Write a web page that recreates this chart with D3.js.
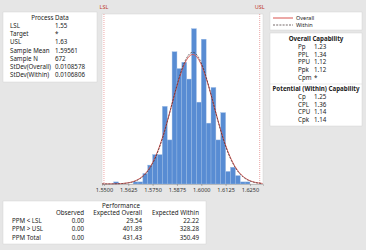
<!DOCTYPE html>
<html>
<head>
<meta charset="utf-8">
<script src="https://cdn.jsdelivr.net/npm/d3@7"></script>
<style>
  body { margin: 0; background: #e6e6e6; }
  svg { display: block; font-family: "Noto Sans", "DejaVu Sans", sans-serif; }
  .t { font-size: 6.2px; fill: #222; }
  .b { font-weight: bold; }
</style>
</head>
<body>
<svg id="chart" width="366" height="250"></svg>
<script>
// histogram bins (lower edge) and counts
const binLow = [1.555, 1.5575, 1.56, 1.5625, 1.565, 1.5675, 1.57, 1.5725, 1.575, 1.5775,
  1.58, 1.5825, 1.585, 1.5875, 1.59, 1.5925, 1.595, 1.5975, 1.6, 1.6025,
  1.605, 1.6075, 1.61, 1.6125, 1.615, 1.6175, 1.62, 1.6225];
const counts = [1, 0, 0, 0, 1, 1, 5, 9, 14, 14,
  37, 21, 63, 55, 58, 50, 74, 39, 69, 29,
  46, 21, 34, 6, 8, 4, 1, 1];
const binWidth = 0.0025;
const xTicks = [1.55, 1.5625, 1.575, 1.5875, 1.6, 1.6125, 1.625];

const LSL = 1.55, USL = 1.63;
const sampleMean = 1.59561, sampleN = 672;
const sdOverall = 0.0108578, sdWithin = 0.0106806;

const procLabels = ['LSL', 'Target', 'USL', 'Sample Mean', 'Sample N', 'StDev(Overall)', 'StDev(Within)'];
const procValues = ['1.55', '*', '1.63', '1.59561', '672', '0.0108578', '0.0106806'];

const overallLabels = ['Pp', 'PPL', 'PPU', 'Ppk', 'Cpm'];
const overallValues = ['1.23', '1.34', '1.12', '1.12', '*'];
const withinLabels = ['Cp', 'CPL', 'CPU', 'Cpk'];
const withinValues = ['1.25', '1.36', '1.14', '1.14'];

const perfRows = ['PPM < LSL', 'PPM > USL', 'PPM Total'];
const perfObserved = ['0.00', '0.00', '0.00'];
const perfOverall = ['29.54', '401.89', '431.43'];
const perfWithin = ['22.22', '328.28', '350.49'];

const svg = d3.select('#chart');

// plot region
const plot = { left: 102, right: 263, top: 14, bottom: 184 };
const x = d3.scaleLinear().domain([1.5490, 1.6317]).range([plot.left, plot.right]);
const y = d3.scaleLinear().domain([0, 81]).range([plot.bottom, plot.top]);

svg.append('rect')
  .attr('x', plot.left).attr('y', plot.top)
  .attr('width', plot.right - plot.left).attr('height', plot.bottom - plot.top)
  .attr('fill', '#fff').attr('stroke', '#d4d4d4').attr('stroke-width', 0.5);

svg.append('g').selectAll('rect')
  .data(binLow.map((b, i) => ({ b, c: counts[i] })).filter(d => d.c > 0))
  .join('rect')
  .attr('x', d => x(d.b))
  .attr('width', d => x(d.b + binWidth) - x(d.b))
  .attr('y', d => y(d.c))
  .attr('height', d => y(0) - y(d.c))
  .attr('fill', '#588cd3')
  .attr('stroke', '#9dbde6')
  .attr('stroke-width', 0.4);

// spec limits
[[LSL, 'LSL'], [USL, 'USL']].forEach(([v, name]) => {
  svg.append('line')
    .attr('x1', x(v)).attr('x2', x(v))
    .attr('y1', plot.top).attr('y2', plot.bottom)
    .attr('stroke', '#e06a6a').attr('stroke-width', 0.6)
    .attr('stroke-dasharray', '1,1');
  svg.append('text')
    .attr('x', x(v)).attr('y', 9)
    .attr('text-anchor', 'middle')
    .attr('font-size', '5.5px')
    .attr('fill', '#c0392b')
    .text(name);
});

// fitted normal curves
function curve(sd) {
  const pts = d3.range(x.domain()[0], x.domain()[1], 0.0004);
  return pts.map(v => [v, sampleN * binWidth * Math.exp(-0.5 * ((v - sampleMean) / sd) ** 2) / (sd * Math.sqrt(2 * Math.PI))]);
}
const line = d3.line().x(d => x(d[0])).y(d => y(d[1])).curve(d3.curveBasis);
svg.append('path')
  .attr('d', line(curve(sdOverall)))
  .attr('fill', 'none').attr('stroke', '#d9534f').attr('stroke-width', 1);
svg.append('path')
  .attr('d', line(curve(sdWithin)))
  .attr('fill', 'none').attr('stroke', '#3a2a2a').attr('stroke-width', 0.7)
  .attr('stroke-dasharray', '2,1.2');

// x axis
const xAxis = svg.append('g')
  .attr('transform', `translate(0,${plot.bottom})`)
  .call(d3.axisBottom(x).tickValues(xTicks).tickFormat(d3.format('.4f')).tickSize(2).tickPadding(2));
xAxis.select('.domain').attr('stroke', '#999').attr('stroke-width', 0.5);
xAxis.selectAll('.tick line').attr('stroke', '#777').attr('stroke-width', 0.5);
xAxis.selectAll('text').attr('font-size', '5.6px').attr('fill', '#333')
  .attr('font-family', '"Noto Sans", sans-serif');

// Process Data box
const pd = svg.append('g');
pd.append('rect').attr('x', 3).attr('y', 12).attr('width', 94).attr('height', 70)
  .attr('fill', '#fff').attr('stroke', '#ccc').attr('stroke-width', 0.4);
pd.append('text').attr('class', 't').attr('x', 50).attr('y', 20)
  .attr('text-anchor', 'middle').text('Process Data');
pd.selectAll('text.lab').data(procLabels).join('text')
  .attr('class', 't lab').attr('x', 10).attr('y', (d, i) => 28 + i * 8.2).text(d => d);
pd.selectAll('text.val').data(procValues).join('text')
  .attr('class', 't val').attr('x', 55).attr('y', (d, i) => 28 + i * 8.2).text(d => d);

// legend
const lg = svg.append('g');
lg.append('rect').attr('x', 270).attr('y', 12).attr('width', 92).attr('height', 18)
  .attr('fill', '#fff').attr('stroke', '#ccc').attr('stroke-width', 0.4);
lg.append('line').attr('x1', 273).attr('x2', 293).attr('y1', 18).attr('y2', 18)
  .attr('stroke', '#d9534f').attr('stroke-width', 1);
lg.append('line').attr('x1', 273).attr('x2', 293).attr('y1', 25).attr('y2', 25)
  .attr('stroke', '#3a2a2a').attr('stroke-width', 0.7).attr('stroke-dasharray', '2,1.2');
lg.append('text').attr('x', 296).attr('y', 20).attr('font-size', '5.5px').attr('fill', '#222').text('Overall');
lg.append('text').attr('x', 296).attr('y', 27.2).attr('font-size', '5.5px').attr('fill', '#222').text('Within');

// capability box
const cap = svg.append('g');
cap.append('rect').attr('x', 270).attr('y', 33).attr('width', 92).attr('height', 93)
  .attr('fill', '#fff').attr('stroke', '#ccc').attr('stroke-width', 0.4);
cap.append('text').attr('class', 't b').attr('x', 316).attr('y', 41)
  .attr('text-anchor', 'middle').text('Overall Capability');
cap.selectAll('text.ol').data(overallLabels).join('text')
  .attr('class', 't ol').attr('x', 298).attr('y', (d, i) => 49 + i * 7.7).text(d => d);
cap.selectAll('text.ov').data(overallValues).join('text')
  .attr('class', 't ov').attr('x', 314).attr('y', (d, i) => 49 + i * 7.7).text(d => d);
cap.append('line').attr('x1', 270).attr('x2', 362).attr('y1', 84).attr('y2', 84)
  .attr('stroke', '#ccc').attr('stroke-width', 0.4);
cap.append('text').attr('class', 't b').attr('x', 316).attr('y', 91)
  .attr('text-anchor', 'middle').text('Potential (Within) Capability');
cap.selectAll('text.wl').data(withinLabels).join('text')
  .attr('class', 't wl').attr('x', 298).attr('y', (d, i) => 99 + i * 7.7).text(d => d);
cap.selectAll('text.wv').data(withinValues).join('text')
  .attr('class', 't wv').attr('x', 314).attr('y', (d, i) => 99 + i * 7.7).text(d => d);

// performance table
const pf = svg.append('g');
pf.append('rect').attr('x', 3).attr('y', 201).attr('width', 203).attr('height', 43)
  .attr('fill', '#fff').attr('stroke', '#ccc').attr('stroke-width', 0.4);
pf.append('text').attr('class', 't').attr('x', 121).attr('y', 207.5)
  .attr('text-anchor', 'middle').text('Performance');
const colX = [84, 142, 199];
['Observed', 'Expected Overall', 'Expected Within'].forEach((h, j) => {
  pf.append('text').attr('class', 't').attr('x', colX[j]).attr('y', 215)
    .attr('text-anchor', 'end').text(h);
});
perfRows.forEach((r, i) => {
  const yy = 223 + i * 8.3;
  pf.append('text').attr('class', 't').attr('x', 12).attr('y', yy).text(r);
  [perfObserved, perfOverall, perfWithin].forEach((col, j) => {
    pf.append('text').attr('class', 't').attr('x', colX[j]).attr('y', yy)
      .attr('text-anchor', 'end').text(col[i]);
  });
});
</script>
</body>
</html>
